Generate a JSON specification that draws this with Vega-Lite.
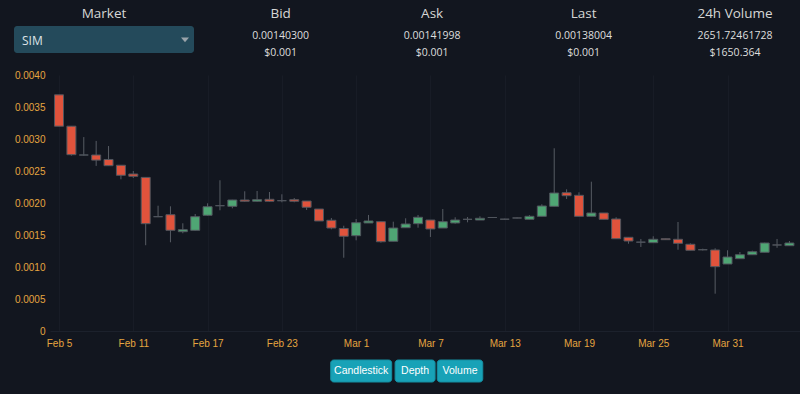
{
  "$schema": "https://vega.github.io/schema/vega-lite/v6.json",
  "background": "#12161f",
  "padding": {"left": 14, "top": 0, "right": 0, "bottom": 12},
  "spacing": 29,
  "bounds": "flush",
  "config": {"view": {"stroke": null}, "font": "Open Sans"},
  "datasets": {
    "header": [
      {"col": "Market", "line": "title", "kind": "label", "text": "Market"},
      {"col": "Bid", "line": "title", "kind": "label", "text": "Bid"},
      {"col": "Ask", "line": "title", "kind": "label", "text": "Ask"},
      {"col": "Last", "line": "title", "kind": "label", "text": "Last"},
      {"col": "24h Volume", "line": "title", "kind": "label", "text": "24h Volume"},
      {"col": "Market", "line": "price", "kind": "select", "text": "SIM"},
      {"col": "Bid", "line": "price", "kind": "value", "text": "0.00140300"},
      {"col": "Bid", "line": "usd", "kind": "value", "text": "$0.001"},
      {"col": "Ask", "line": "price", "kind": "value", "text": "0.00141998"},
      {"col": "Ask", "line": "usd", "kind": "value", "text": "$0.001"},
      {"col": "Last", "line": "price", "kind": "value", "text": "0.00138004"},
      {"col": "Last", "line": "usd", "kind": "value", "text": "$0.001"},
      {"col": "24h Volume", "line": "price", "kind": "value", "text": "2651.72461728"},
      {"col": "24h Volume", "line": "usd", "kind": "value", "text": "$1650.364"}
    ],
    "buttons": [
      {"label": "Candlestick", "row": "b"},
      {"label": "Depth", "row": "b"},
      {"label": "Volume", "row": "b"}
    ],
    "candles": [
      {"date": "2018-02-05T00:00:00", "open": 0.00369, "high": 0.00369, "low": 0.00320, "close": 0.00320},
      {"date": "2018-02-06T00:00:00", "open": 0.00320, "high": 0.00320, "low": 0.00274, "close": 0.002755},
      {"date": "2018-02-07T00:00:00", "open": 0.00275, "high": 0.00303, "low": 0.00274, "close": 0.00275},
      {"date": "2018-02-08T00:00:00", "open": 0.00275, "high": 0.00297, "low": 0.00258, "close": 0.00267},
      {"date": "2018-02-09T00:00:00", "open": 0.00268, "high": 0.00289, "low": 0.00258, "close": 0.002583},
      {"date": "2018-02-10T00:00:00", "open": 0.00259, "high": 0.00259, "low": 0.00237, "close": 0.002433},
      {"date": "2018-02-11T00:00:00", "open": 0.002453, "high": 0.0025, "low": 0.00239, "close": 0.002417},
      {"date": "2018-02-12T00:00:00", "open": 0.0024, "high": 0.0024, "low": 0.00134, "close": 0.001677},
      {"date": "2018-02-13T00:00:00", "open": 0.001786, "high": 0.001958, "low": 0.00178, "close": 0.001786},
      {"date": "2018-02-14T00:00:00", "open": 0.001817, "high": 0.001948, "low": 0.001386, "close": 0.001573},
      {"date": "2018-02-15T00:00:00", "open": 0.001552, "high": 0.001683, "low": 0.001527, "close": 0.001583},
      {"date": "2018-02-16T00:00:00", "open": 0.001573, "high": 0.001828, "low": 0.00157, "close": 0.001786},
      {"date": "2018-02-17T00:00:00", "open": 0.001808, "high": 0.001995, "low": 0.0018, "close": 0.001942},
      {"date": "2018-02-18T00:00:00", "open": 0.001958, "high": 0.002355, "low": 0.001886, "close": 0.001958},
      {"date": "2018-02-19T00:00:00", "open": 0.001948, "high": 0.00205, "low": 0.001917, "close": 0.002047},
      {"date": "2018-02-20T00:00:00", "open": 0.002047, "high": 0.002183, "low": 0.00202, "close": 0.002027},
      {"date": "2018-02-21T00:00:00", "open": 0.002027, "high": 0.002188, "low": 0.00202, "close": 0.002052},
      {"date": "2018-02-22T00:00:00", "open": 0.002058, "high": 0.002172, "low": 0.00202, "close": 0.002027},
      {"date": "2018-02-23T00:00:00", "open": 0.002036, "high": 0.002136, "low": 0.002011, "close": 0.002036},
      {"date": "2018-02-24T00:00:00", "open": 0.002052, "high": 0.002078, "low": 0.002011, "close": 0.002027},
      {"date": "2018-02-25T00:00:00", "open": 0.002031, "high": 0.002031, "low": 0.001891, "close": 0.001933},
      {"date": "2018-02-26T00:00:00", "open": 0.001906, "high": 0.001906, "low": 0.001719, "close": 0.001719},
      {"date": "2018-02-27T00:00:00", "open": 0.00173, "high": 0.001766, "low": 0.001589, "close": 0.001609},
      {"date": "2018-02-28T00:00:00", "open": 0.001602, "high": 0.001645, "low": 0.001145, "close": 0.00148},
      {"date": "2018-03-01T00:00:00", "open": 0.001489, "high": 0.00175, "low": 0.001417, "close": 0.001692},
      {"date": "2018-03-02T00:00:00", "open": 0.001688, "high": 0.001813, "low": 0.001688, "close": 0.001719},
      {"date": "2018-03-03T00:00:00", "open": 0.001708, "high": 0.001708, "low": 0.00138, "close": 0.001395},
      {"date": "2018-03-04T00:00:00", "open": 0.001402, "high": 0.001708, "low": 0.001402, "close": 0.001609},
      {"date": "2018-03-05T00:00:00", "open": 0.001614, "high": 0.001761, "low": 0.001614, "close": 0.001672},
      {"date": "2018-03-06T00:00:00", "open": 0.001677, "high": 0.001813, "low": 0.001614, "close": 0.001777},
      {"date": "2018-03-07T00:00:00", "open": 0.001734, "high": 0.001734, "low": 0.001469, "close": 0.001594},
      {"date": "2018-03-08T00:00:00", "open": 0.001609, "high": 0.001906, "low": 0.001609, "close": 0.001708},
      {"date": "2018-03-09T00:00:00", "open": 0.001688, "high": 0.001777, "low": 0.001677, "close": 0.001734},
      {"date": "2018-03-10T00:00:00", "open": 0.001745, "high": 0.001781, "low": 0.001698, "close": 0.001745},
      {"date": "2018-03-11T00:00:00", "open": 0.001734, "high": 0.001792, "low": 0.001734, "close": 0.001761},
      {"date": "2018-03-12T00:00:00", "open": 0.001773, "high": 0.001781, "low": 0.001766, "close": 0.001773},
      {"date": "2018-03-13T00:00:00", "open": 0.001747, "high": 0.001755, "low": 0.00174, "close": 0.001747},
      {"date": "2018-03-14T00:00:00", "open": 0.001766, "high": 0.001773, "low": 0.00176, "close": 0.001766},
      {"date": "2018-03-15T00:00:00", "open": 0.001745, "high": 0.00181, "low": 0.001745, "close": 0.001792},
      {"date": "2018-03-16T00:00:00", "open": 0.001792, "high": 0.00198, "low": 0.001792, "close": 0.001953},
      {"date": "2018-03-17T00:00:00", "open": 0.001948, "high": 0.002855, "low": 0.001948, "close": 0.002156},
      {"date": "2018-03-18T00:00:00", "open": 0.002161, "high": 0.002214, "low": 0.002063, "close": 0.002114},
      {"date": "2018-03-19T00:00:00", "open": 0.00212, "high": 0.002167, "low": 0.001792, "close": 0.001792},
      {"date": "2018-03-20T00:00:00", "open": 0.001792, "high": 0.002333, "low": 0.001792, "close": 0.001844},
      {"date": "2018-03-21T00:00:00", "open": 0.001844, "high": 0.001844, "low": 0.001745, "close": 0.001745},
      {"date": "2018-03-22T00:00:00", "open": 0.00175, "high": 0.001777, "low": 0.001442, "close": 0.001442},
      {"date": "2018-03-23T00:00:00", "open": 0.001464, "high": 0.001464, "low": 0.001364, "close": 0.001406},
      {"date": "2018-03-24T00:00:00", "open": 0.001388, "high": 0.001438, "low": 0.001313, "close": 0.001388},
      {"date": "2018-03-25T00:00:00", "open": 0.00138, "high": 0.00148, "low": 0.00138, "close": 0.001433},
      {"date": "2018-03-26T00:00:00", "open": 0.001442, "high": 0.001442, "low": 0.001427, "close": 0.001427},
      {"date": "2018-03-27T00:00:00", "open": 0.001433, "high": 0.001703, "low": 0.00127, "close": 0.00137},
      {"date": "2018-03-28T00:00:00", "open": 0.001355, "high": 0.00137, "low": 0.001261, "close": 0.001261},
      {"date": "2018-03-29T00:00:00", "open": 0.00127, "high": 0.001286, "low": 0.001258, "close": 0.00127},
      {"date": "2018-03-30T00:00:00", "open": 0.001266, "high": 0.001292, "low": 0.000583, "close": 0.001005},
      {"date": "2018-03-31T00:00:00", "open": 0.001047, "high": 0.001261, "low": 0.001047, "close": 0.001156},
      {"date": "2018-04-01T00:00:00", "open": 0.00113, "high": 0.001234, "low": 0.00113, "close": 0.001192},
      {"date": "2018-04-02T00:00:00", "open": 0.001192, "high": 0.001255, "low": 0.001192, "close": 0.001239},
      {"date": "2018-04-03T00:00:00", "open": 0.00123, "high": 0.00138, "low": 0.00123, "close": 0.001375},
      {"date": "2018-04-04T00:00:00", "open": 0.001344, "high": 0.001438, "low": 0.0013, "close": 0.001344},
      {"date": "2018-04-05T00:00:00", "open": 0.001333, "high": 0.001406, "low": 0.001333, "close": 0.001375}
    ]
  },
  "vconcat": [
    {
      "width": 750,
      "height": 46,
      "data": {"name": "header"},
      "encoding": {
        "x": {"field": "col", "type": "nominal", "axis": null,
          "scale": {"type": "point", "padding": 0, "range": [54, 685],
            "domain": ["Market", "_1", "_2", "_3", "_4", "_5", "_6", "Bid", "_8", "_9", "_10", "_11", "_12", "Ask", "_14", "_15", "_16", "_17", "_18", "Last", "_20", "_21", "_22", "_23", "_24", "24h Volume"]}},
        "y": {"field": "line", "type": "nominal", "axis": null,
          "scale": {"type": "point", "padding": 0, "range": [21.4, 56.2], "domain": ["title", "price", "usd"]}}
      },
      "layer": [
        {
          "transform": [{"filter": "datum.kind === 'select'"}],
          "mark": {"type": "rect", "width": 180, "height": 27, "cornerRadius": 3, "fill": "#244a5b", "yOffset": 0.7}
        },
        {
          "transform": [{"filter": "datum.kind === 'select'"}],
          "mark": {"type": "text", "align": "left", "baseline": "middle", "dx": -82, "dy": 2, "fontSize": 12, "color": "#dde3e6"},
          "encoding": {"text": {"field": "text"}}
        },
        {
          "transform": [{"filter": "datum.kind === 'select'"}],
          "mark": {"type": "point", "shape": "M-1,-0.6L1,-0.6L0,0.6Z", "size": 64, "filled": true, "opacity": 1, "color": "#9aa3aa", "xOffset": 81, "yOffset": 1}
        },
        {
          "transform": [{"filter": "datum.kind === 'label'"}],
          "mark": {"type": "text", "align": "center", "baseline": "bottom", "fontSize": 13.5, "color": "#d6d6d6"},
          "encoding": {"text": {"field": "text"}}
        },
        {
          "transform": [{"filter": "datum.kind === 'value'"}],
          "mark": {"type": "text", "align": "center", "baseline": "alphabetic", "fontSize": 10.5, "color": "#dedede"},
          "encoding": {"text": {"field": "text"}}
        }
      ]
    },
    {
      "width": 750,
      "height": 256,
      "data": {"name": "candles"},
      "encoding": {
        "x": {"field": "date", "type": "temporal", "title": null,
          "scale": {"padding": 0, "domain": [{"year": 2018, "month": 2, "date": 4, "hours": 6, "minutes": 30}, {"year": 2018, "month": 4, "date": 5, "hours": 20, "minutes": 30}]},
          "axis": {
            "values": [
              {"year": 2018, "month": 2, "date": 5}, {"year": 2018, "month": 2, "date": 11}, {"year": 2018, "month": 2, "date": 17},
              {"year": 2018, "month": 2, "date": 23}, {"year": 2018, "month": 3, "date": 1}, {"year": 2018, "month": 3, "date": 7},
              {"year": 2018, "month": 3, "date": 13}, {"year": 2018, "month": 3, "date": 19}, {"year": 2018, "month": 3, "date": 25},
              {"year": 2018, "month": 3, "date": 31}
            ],
            "format": "%b %-d", "labelColor": "#e5a540", "labelFont": "Liberation Sans", "labelFontSize": 10,
            "ticks": false, "labelPadding": 7, "labelFlush": false, "labelOverlap": false, "grid": true, "gridColor": "#181c26", "domainColor": "#1c212c"
          }},
        "y": {"field": "low", "type": "quantitative", "title": null,
          "scale": {"domain": [0, 0.004], "padding": 0},
          "axis": {"values": [0, 0.0005, 0.001, 0.0015, 0.002, 0.0025, 0.003, 0.0035, 0.004],
            "labelExpr": "datum.value === 0 ? '0' : format(datum.value, '.4f')",
            "labelColor": "#e5a540", "labelFont": "Liberation Sans", "labelFontSize": 10,
            "labelOverlap": false, "ticks": false, "domain": false, "grid": false, "labelPadding": 5}}
      },
      "layer": [
        {
          "mark": {"type": "rule", "color": "#575c64", "strokeWidth": 1},
          "encoding": {
            "y2": {"field": "high"}
          }
        },
        {
          "mark": {"type": "bar", "width": 9, "stroke": "#51565e", "strokeWidth": 1},
          "encoding": {
            "y": {"field": "open", "type": "quantitative", "title": null,
              "scale": {"domain": [0, 0.004], "padding": 0},
              "axis": {"values": [0, 0.0005, 0.001, 0.0015, 0.002, 0.0025, 0.003, 0.0035, 0.004],
                "labelExpr": "datum.value === 0 ? '0' : format(datum.value, '.4f')",
                "labelColor": "#e5a540", "labelFont": "Liberation Sans", "labelFontSize": 10,
                "labelOverlap": false, "ticks": false, "domain": false, "grid": false, "labelPadding": 5}},
            "y2": {"field": "close"},
            "color": {
              "condition": [
                {"test": "datum.close > datum.open", "value": "#4fa674"},
                {"test": "datum.close < datum.open", "value": "#e0533c"}
              ],
              "value": "#7a7f87"
            }
          }
        }
      ]
    },
    {
      "width": 750,
      "height": 22,
      "data": {"name": "buttons"},
      "encoding": {
        "x": {"field": "label", "type": "nominal", "axis": null,
          "scale": {"type": "point", "padding": 0, "range": [311.2, 410],
            "domain": ["Candlestick", "_1", "_2", "_3", "_4", "_5", "Depth", "_7", "_8", "_9", "_10", "Volume"]}},
        "y": {"field": "row", "type": "nominal", "axis": null,
          "scale": {"type": "band", "paddingInner": 0, "paddingOuter": 0}}
      },
      "layer": [
        {
          "mark": {"type": "rect", "cornerRadius": 3, "fill": "#18a2b7", "stroke": "#148ea1", "strokeWidth": 1,
            "width": {"expr": "datum.label === 'Candlestick' ? 61 : datum.label === 'Depth' ? 40 : 45.5"}}
        },
        {
          "mark": {"type": "text", "align": "center", "baseline": "middle", "fontSize": 10.5, "font": "Liberation Sans", "color": "#ffffff"},
          "encoding": {"text": {"field": "label"}}
        }
      ]
    }
  ]
}
